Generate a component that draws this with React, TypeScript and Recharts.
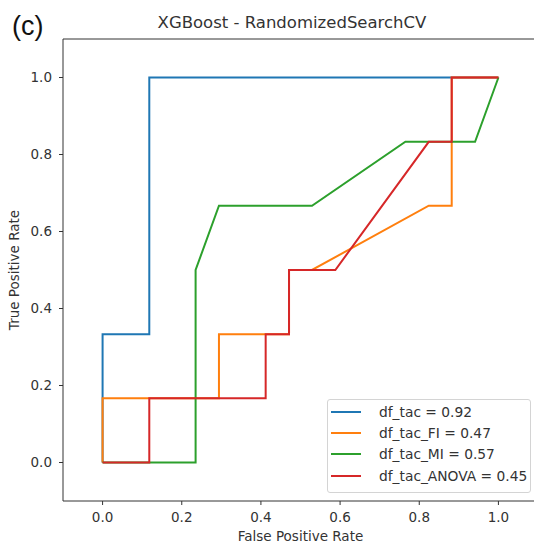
import { Legend, Line, LineChart, ReferenceLine, XAxis, YAxis } from "recharts";

const seriesNames = ["df_tac = 0.92", "df_tac_FI = 0.47", "df_tac_MI = 0.57", "df_tac_ANOVA = 0.45"];
const seriesColors = ["#1f77b4", "#ff7f0e", "#2ca02c", "#d62728"];

// ROC points (false positive rate / true positive rate)
const fprTac = [0, 0, 0.118, 0.118, 1];
const tprTac = [0, 0.333, 0.333, 1, 1];

const fprFI = [0, 0, 0.294, 0.294, 0.471, 0.471, 0.529, 0.824, 0.882, 0.882, 1];
const tprFI = [0, 0.167, 0.167, 0.333, 0.333, 0.5, 0.5, 0.667, 0.667, 1, 1];

const fprMI = [0, 0.235, 0.235, 0.294, 0.529, 0.765, 0.941, 1];
const tprMI = [0, 0, 0.5, 0.667, 0.667, 0.833, 0.833, 1];

const fprAnova = [0, 0.118, 0.118, 0.412, 0.412, 0.471, 0.471, 0.588, 0.824, 0.882, 0.882, 1];
const tprAnova = [0, 0, 0.167, 0.167, 0.333, 0.333, 0.5, 0.5, 0.833, 0.833, 1, 1];

const axisTicks = [0, 0.2, 0.4, 0.6, 0.8, 1.0];

const zip = (xs: number[], ys: number[]) => xs.map((x, i) => ({ x, y: ys[i] }));

const series = [zip(fprTac, tprTac), zip(fprFI, tprFI), zip(fprMI, tprMI), zip(fprAnova, tprAnova)];

const font = "'DejaVu Sans', sans-serif";
const ink = "#333";

// legend kept in plotting order (recharts sorts the payload by name otherwise)
function LegendBox() {
  return (
    <div
      style={{
        width: 204,
        height: 94,
        boxSizing: "border-box",
        border: "1px solid #d4d4d4",
        borderRadius: 3,
        background: "rgba(255,255,255,0.85)",
        paddingTop: 1,
        fontFamily: font,
        fontSize: 13.8,
        color: ink,
      }}
    >
      {seriesNames.map((name, i) => (
        <div key={name} style={{ height: 21.4, display: "flex", alignItems: "center" }}>
          <svg width={40} height={4} style={{ marginLeft: 3, marginRight: 8 }}>
            <line x1={0} y1={2} x2={30} y2={2} stroke={seriesColors[i]} strokeWidth={2} />
          </svg>
          <span>{name}</span>
        </div>
      ))}
    </div>
  );
}

export default function App() {
  return (
    <div style={{ position: "fixed", left: 0, top: 0, width: 534, height: 546, overflow: "hidden", background: "#fff" }}>
      <svg width={534} height={60} style={{ position: "absolute", left: 0, top: 0 }}>
        <text x={12} y={35} fontFamily="'Liberation Sans', sans-serif" fontSize={27} fill="#111">
          (c)
        </text>
        <text x={292} y={28} textAnchor="middle" fontFamily={font} fontSize={16.5} fill={ink}>
          XGBoost - RandomizedSearchCV
        </text>
      </svg>
      <div style={{ position: "absolute", left: 0, top: 0 }}>
        <LineChart width={560} height={546} margin={{ top: 39, right: 22, bottom: 0, left: 0 }}>
          <XAxis
            dataKey="x"
            type="number"
            domain={[-0.1, 1.1]}
            ticks={axisTicks}
            tickFormatter={(v: number) => v.toFixed(1)}
            height={45}
            tickSize={4}
            tickMargin={7}
            stroke={ink}
            tick={{ fill: ink, fontFamily: font, fontSize: 13.5 }}
            label={{ value: "False Positive Rate", position: "insideBottom", offset: 5, fill: ink, fontFamily: font, fontSize: 13.5 }}
          />
          <YAxis
            dataKey="y"
            type="number"
            domain={[-0.1, 1.1]}
            ticks={axisTicks}
            tickFormatter={(v: number) => v.toFixed(1)}
            width={63}
            tickSize={4}
            tickMargin={7}
            stroke={ink}
            tick={{ fill: ink, fontFamily: font, fontSize: 13.5 }}
            label={{ value: "True Positive Rate", angle: -90, position: "center", dx: -17, fill: ink, fontFamily: font, fontSize: 13.5 }}
          />
          <ReferenceLine y={1.1} stroke={ink} strokeWidth={1} />
          {series.map((pts, i) => (
            <Line
              key={seriesNames[i]}
              data={pts}
              dataKey="y"
              name={seriesNames[i]}
              type="linear"
              stroke={seriesColors[i]}
              strokeWidth={2}
              dot={false}
              isAnimationActive={false}
            />
          ))}
          <Legend
            layout="vertical"
            align="center"
            verticalAlign="middle"
            content={<LegendBox />}
            wrapperStyle={{ left: 327, top: 399, width: 204, height: 94 }}
          />
        </LineChart>
      </div>
    </div>
  );
}
